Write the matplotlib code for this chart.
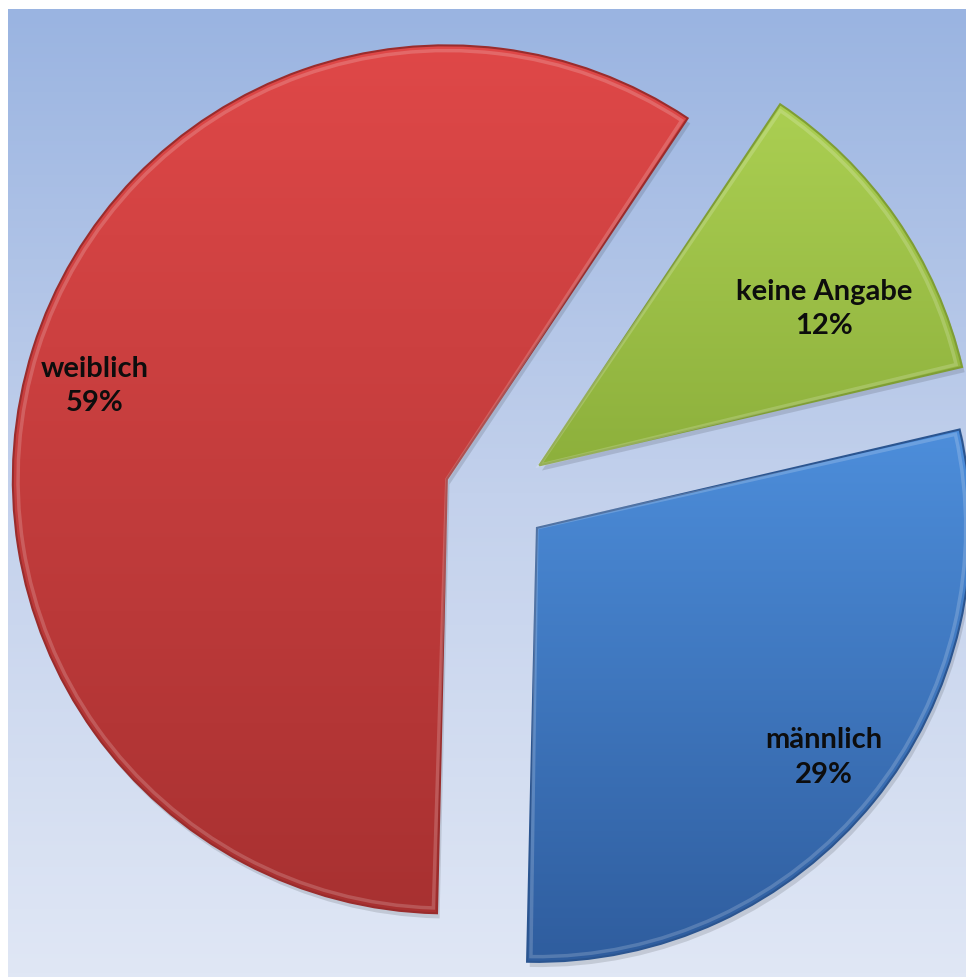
import numpy as np
import matplotlib
matplotlib.use("Agg")
import matplotlib.pyplot as plt
from matplotlib.patches import Wedge
from matplotlib.colors import LinearSegmentedColormap

# Data
categories = ["weiblich", "keine Angabe", "männlich"]
values = [59, 12, 29]
pct_labels = ["59%", "12%", "29%"]

# Styling
top_colors = ["#df4848", "#abcf52", "#4d8edb"]
bottom_colors = ["#a83131", "#8db03c", "#2f5d9e"]
edge_colors = ["#9a2c2c", "#7f9e34", "#2b5590"]
label_radius = [0.96, 0.87, 0.965]
label_angle_shift = [2.2, -5.0, 0.5]

W, H, DPI = 966, 978, 100
fig = plt.figure(figsize=(W / DPI, H / DPI), dpi=DPI)
fig.patch.set_facecolor("white")

# background gradient
bg = fig.add_axes([8 / W, 0, 1 - 8 / W, (H - 10) / H])
bg.set_axis_off()
bg_cmap = LinearSegmentedColormap.from_list("bg", ["#9ab4e1", "#c3d1ec", "#e0e7f5"])
grad = np.linspace(0, 1, 256).reshape(-1, 1)
bg.imshow(grad, aspect="auto", cmap=bg_cmap, extent=[0, 1, 0, 1], origin="upper")
bg.set_xlim(0, 1)
bg.set_ylim(0, 1)

R = 434.0
cx, cy = 496.5, 482.0  # pixel center (from bottom-left)
ax = fig.add_axes([0, 0, 1, 1])
ax.set_axis_off()
ax.patch.set_alpha(0)

explode = [0.12, 0.12, 0.12]
wedges, _ = ax.pie(values, explode=explode, startangle=268.7, counterclock=False,
                   colors=top_colors, radius=1.0,
                   wedgeprops=dict(edgecolor="none", linewidth=0))
ax.set_xlim(-cx / R, (W - cx) / R)
ax.set_ylim(-cy / R, (H - cy) / R)
ax.set_aspect("auto")

for i, w in enumerate(wedges):
    # subtle shadow
    sh = Wedge((w.center[0] + 0.006, w.center[1] - 0.012), w.r,
               w.theta1, w.theta2, facecolor="#000000", alpha=0.12,
               edgecolor="none", zorder=0.5)
    ax.add_patch(sh)
    w.set_zorder(1)
    bb = w.get_path().transformed(w.get_patch_transform()).get_extents()
    cmap = LinearSegmentedColormap.from_list("g%d" % i, [top_colors[i], bottom_colors[i]])
    im = ax.imshow(grad, aspect="auto", cmap=cmap, origin="upper",
                   extent=[bb.x0, bb.x1, bb.y0, bb.y1], zorder=2)
    im.set_clip_path(w)
    # bevel edge
    edge = Wedge(w.center, w.r, w.theta1, w.theta2,
                 facecolor="none", edgecolor=edge_colors[i],
                 linewidth=1.5, zorder=3)
    ax.add_patch(edge)
    hi = Wedge(w.center, w.r - 0.012, w.theta1 + 0.5, w.theta2 - 0.5,
               facecolor="none", edgecolor="white", alpha=0.18,
               linewidth=2.5, zorder=3)
    ax.add_patch(hi)

    mid = np.deg2rad((w.theta1 + w.theta2) / 2 + label_angle_shift[i])
    x = label_radius[i] * np.cos(mid)
    y = label_radius[i] * np.sin(mid)
    ax.text(x, y, categories[i] + "\n" + pct_labels[i], ha="center", va="center",
            fontsize=21, fontweight="bold", family=["Lato", "DejaVu Sans"],
            color="#0d0d0d", linespacing=1.42, zorder=5)

fig.savefig("out.png", dpi=DPI)
